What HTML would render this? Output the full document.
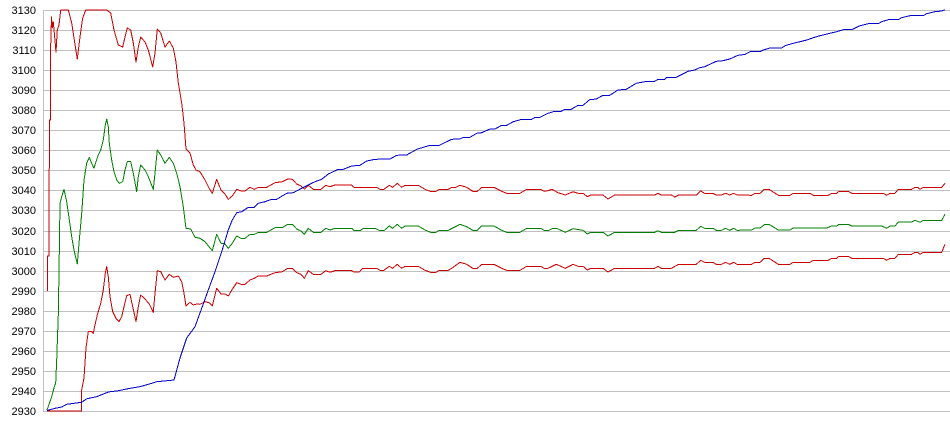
<!DOCTYPE html>
<html>
<head>
<meta charset="utf-8">
<style>
html,body{margin:0;padding:0;background:#fff;}
svg{display:block;}
text{font-family:"Liberation Sans",Arial,sans-serif;font-size:11px;fill:#000;}
</style>
</head>
<body>
<svg width="950" height="435" viewBox="0 0 950 435" xmlns="http://www.w3.org/2000/svg">
<rect x="0" y="0" width="950" height="435" fill="#fff"/>
<g stroke="#c0c0c0" stroke-width="1" shape-rendering="crispEdges">
<line x1="43" y1="10.5" x2="950" y2="10.5"/>
<line x1="43" y1="30.5" x2="950" y2="30.5"/>
<line x1="43" y1="50.5" x2="950" y2="50.5"/>
<line x1="43" y1="70.5" x2="950" y2="70.5"/>
<line x1="43" y1="90.5" x2="950" y2="90.5"/>
<line x1="43" y1="110.5" x2="950" y2="110.5"/>
<line x1="43" y1="130.5" x2="950" y2="130.5"/>
<line x1="43" y1="150.5" x2="950" y2="150.5"/>
<line x1="43" y1="170.5" x2="950" y2="170.5"/>
<line x1="43" y1="190.5" x2="950" y2="190.5"/>
<line x1="43" y1="210.5" x2="950" y2="210.5"/>
<line x1="43" y1="231.5" x2="950" y2="231.5"/>
<line x1="43" y1="251.5" x2="950" y2="251.5"/>
<line x1="43" y1="271.5" x2="950" y2="271.5"/>
<line x1="43" y1="291.5" x2="950" y2="291.5"/>
<line x1="43" y1="311.5" x2="950" y2="311.5"/>
<line x1="43" y1="331.5" x2="950" y2="331.5"/>
<line x1="43" y1="351.5" x2="950" y2="351.5"/>
<line x1="43" y1="371.5" x2="950" y2="371.5"/>
<line x1="43" y1="391.5" x2="950" y2="391.5"/>
<line x1="43" y1="411.5" x2="950" y2="411.5"/>
<line x1="43.5" y1="10" x2="43.5" y2="412"/>
</g>
<g text-anchor="end">
<text x="36" y="14">3130</text>
<text x="36" y="34">3120</text>
<text x="36" y="54">3110</text>
<text x="36" y="74">3100</text>
<text x="36" y="94">3090</text>
<text x="36" y="114">3080</text>
<text x="36" y="134">3070</text>
<text x="36" y="154">3060</text>
<text x="36" y="174">3050</text>
<text x="36" y="194">3040</text>
<text x="36" y="214">3030</text>
<text x="36" y="235">3020</text>
<text x="36" y="255">3010</text>
<text x="36" y="275">3000</text>
<text x="36" y="295">2990</text>
<text x="36" y="315">2980</text>
<text x="36" y="335">2970</text>
<text x="36" y="355">2960</text>
<text x="36" y="375">2950</text>
<text x="36" y="395">2940</text>
<text x="36" y="415">2930</text>
</g>
<g fill="none" stroke-width="1" stroke-linejoin="round" shape-rendering="crispEdges">
<!-- upper red -->
<polyline stroke="#cc0000" points="47.5,291 47.5,256 49,256 49,188 49.5,150 49.5,120 50.5,120 50.5,52 51.5,17 52.3,28 53.3,22 54.3,33 56,52 57.3,30 59,25 60.7,10 68.3,10 71.7,23 74.3,40 77.3,59 80,37 82.7,18 85.7,10 106.7,10 110.7,13 114,30 118.3,45 122.7,47 125,37 127.3,28 130.7,30 133.3,43 136,62 138.3,47 140.7,37 145,42 148.3,50 152.7,67 155,53 157.3,29 160.7,33 165,47 169.3,41 173.3,48 176,62 178.3,83 181.7,103 184,123 186,149 190,153 193.3,165 196,170 200,171.7 205,180 209,188 212.3,193.3 216.7,179.3 221,190 225,194 228.3,199.3 232.3,196 236.7,189.3 241,191 245,191 250,187.3 254.3,189.3 258.3,187.3 266.7,187.3 275,182.7 282.3,181.7 287.7,179 292.3,179.3 296.7,184 301,186 304.3,189 308.3,185.3 313.3,189.3 321,189.3 325.7,185.3 330,186.7 335,185 351.7,185 354,187.3 376.7,187.3 380,189.3 384,189.3 389.3,185.3 392.7,187.3 397.3,183.3 401.7,187.3 405,185.3 418.3,185.3 425,189.3 430,191.3 436,191.3 439.3,189.3 448.3,189.3 451.7,187.3 456,187.3 460,185.3 466.7,187.3 472.7,191.3 477.3,191.3 481.7,187.3 494,187.3 501.7,191.3 506.7,193.3 520,193.3 526.7,189.3 540.7,189.3 544,191.3 548,190.7 552,189.3 558,192.7 565.3,195 573,191.7 578,193.3 583,193.3 587.3,196.7 590.7,195 603,195 608,199 614.7,195 654.7,195 658,193.3 661.3,195 671.3,195 674.7,197 678.7,195 696.3,195 700.7,191 704.7,193.3 713,193.3 716.3,195 721.3,195 725.7,193.3 729.7,195 733.7,193.3 737,195 751.7,195.3 755,193.3 760,193.3 764.3,189.3 769,189.3 778.3,195.3 790,195.3 793.3,193.3 810,193.3 813.3,195.3 828.3,195.3 831.7,193.3 836.7,193.3 839,191.3 848.3,191.3 851.7,193.3 883.3,193.3 886.7,195.3 890,193.3 895,193.3 898.3,189.3 911.7,189.3 915,187.3 917.7,187.3 920,189.3 923.3,187.3 941.7,187.3 945,183.3"/>
<!-- lower red -->
<polyline stroke="#cc0000" points="47,411 81.5,411 81.7,390 84,378 86,348 88.3,331.7 91.7,331.7 93.3,333.3 95,325 97.3,315 100.7,303.3 103.3,290 105.3,273.3 106.7,266.7 108.3,276.7 110,296.7 112.7,311.7 116,318.3 119,321.7 121.7,316.7 124,306.7 126.7,295.7 130,294.3 132.7,306.7 136,321.7 138.3,306.7 140.7,295 145,299 149.3,304 153.3,312.3 155,293.3 157.3,270.7 160.7,271.7 165,280 169.3,274.3 173.3,277.3 178.3,276 181.7,281.7 184,293.3 186,306 190,302.3 193.3,305 196.7,304 200,304.3 205,301.7 209,302.7 212.3,306 216.7,288.3 221,294 225,294 228.3,296 232.3,289.3 236.7,282.7 241,284.3 245,284.3 250,280 254.3,278.3 258.3,276 266.7,276 275,272.7 282.3,271.7 287.7,268.3 292.3,268.3 296.7,272.7 301,274.3 304.3,278.3 308.3,270.7 313.3,274.3 321,274.3 325.7,270.7 330,272.3 335,270.7 351.7,270.7 354,272 359.3,272 362.7,268.3 376.7,268.3 380,270.3 384,270.3 389.3,266.3 392.7,268.3 397.3,264.3 401.7,268.3 405,266.3 418.3,266.3 425,270.3 430.7,272.3 436,272.3 439.3,270.3 448.3,270.3 451.7,268.3 460,262.3 466.7,264.3 472.7,268.3 477.3,268.3 481.7,264.3 494,264.3 501.7,268.3 506.7,270.3 520,270.3 526.7,266.3 540.7,266.3 544,268.3 548,268.3 556.3,264.3 565.3,268.3 573,264.3 578,266.3 583,266.3 587.3,270 590.7,268.3 603,268.3 608,272 614.7,268.3 654.7,268.3 658,266.3 661.3,268.3 671.3,268.3 678.7,264.3 696.3,264.3 700.7,260.3 704.7,262.3 713,262.3 716.3,264.3 721.3,264.3 725.7,262.3 729.7,264.3 733.7,262.3 737,264.3 751.7,264.3 755,262.3 760,262.3 764.3,258.3 769,258.3 778.3,264.3 790,264.3 793.3,262.3 810,262.3 813.3,260.3 828.3,260.3 831.7,258.3 836.7,258.3 839,256.3 848.3,256.3 851.7,258.3 883.3,258.3 886.7,260.3 890,258.3 895,258.3 898.3,254.3 911.7,254.3 915,252.3 917.7,252.3 920,254.3 923.3,252.3 941.7,252.3 945,244.3"/>
<!-- green -->
<polyline stroke="#008000" points="47,410 51.7,396.7 54.3,386.7 55.7,383 56.7,360 58.3,315 59,271.7 60,203.3 61.7,196.7 64,189.3 66.7,201.7 69.3,220 71.7,236.7 74,250 77.3,264 79.3,240 81.7,213.3 84,180 86.7,163.3 89.3,157.3 91.7,163.3 94,168.3 96,161.7 98.3,155 100.7,150 103.3,140 105.3,125 106.7,119 108.3,126.7 109.3,143.3 111.7,160 114,171.7 116.7,180 119.3,183.3 122.7,181.7 125,170 127.3,161.7 130.7,161.7 133.3,173.3 136.7,191.7 138.3,176.7 140.7,165 145,170 148.3,176.7 153.3,189.3 155,173.3 157.3,150 160.7,155 165,163.3 169.3,157.3 173.3,163.3 176.7,173.3 180,186.7 183.3,206.7 186,228.3 190.7,229 195,237.3 200,238.3 205,241.7 209,246.7 212.3,250.7 216.7,234.3 221,243.3 225,244 228.3,248.3 232.3,243.3 236.7,236 241,238.3 245,238.3 250,234.3 254.3,234.3 258.3,232.3 266.7,232.3 275,227.7 282.3,227.7 287.7,224.3 292.3,224.3 296.7,229 301,231 304.3,234.3 308.3,228.3 313.3,232.3 321,232.3 325.7,228.3 330,230 335,228.3 351.7,228.3 354,230.7 360,230.7 362.7,228.7 376,228.7 380,230.7 384,230.7 389.3,226 392.7,228.3 397.3,224.3 401.7,228.3 405,226 418.3,226 425,230 430.7,232.3 436,232.3 439.3,230.3 448.3,230.3 460,224.3 466.7,226.7 472.7,230.3 477.3,230.3 481.7,226 494,226 501.7,230.3 506.7,232.3 520,232.3 526.7,228.3 540.7,228.3 544,230.3 548,230.7 553,228.3 557.3,228.7 565.3,232.3 573,228.7 583,230.3 587.3,234 590.7,232.3 603,232.3 608,236 614.7,232.3 654.7,232.3 658,230.7 661.3,232.3 674.7,232.3 678.7,230.3 696.3,230.3 700.7,226.3 704.7,228.3 713,228.3 716.3,230.3 721.3,230.3 725.7,228.3 729.7,230.3 733.7,228.3 737,230.3 751.7,230 755,228 760,228 765,224.3 769,224.3 778.3,230 790,230 793.3,228 826.7,228 831.7,226 836.7,226 839,224.3 848.3,224.3 851.7,226 881.7,226 886.7,228.3 890,226 895,226 898.3,222 911.7,222 915,220.3 920,222.3 923.3,220.3 941.7,220.3 945,214.3"/>
<!-- blue -->
<polyline stroke="#0000cc" points="47,410.5 55,408.3 61.7,407 66.7,404.3 81.7,402.3 86.7,398.8 96.7,396.7 108.3,392 118.3,390.7 130,388.3 140,386.7 151.7,383.3 156.7,381.7 174,380 180,358 186.7,338 195,326.7 201.7,308.3 208.3,290 215,271.7 221.7,251.7 228.3,230 232.3,220 236.7,212.7 241.7,211.7 248.3,207.3 254.3,207.3 258.3,203.3 265,201.7 271.7,199.3 276.7,199.3 286.7,193.3 293.3,192.7 301.7,188.3 308.3,185 315,181.7 321.7,179.3 328.3,174 338.3,169.3 343.3,169.3 351.7,166 360,165.3 366.7,161 375,159.3 390,159 396.7,155.3 406.7,155 416.7,149.3 430,145.3 439.3,145.3 451.7,139.3 460,139 463.3,137.3 470,137.3 476.7,133.3 481.7,132.7 490,129 495,129 501.7,125.3 506.7,125.3 513.3,121.7 521.7,119.3 531.7,119.3 535,117.3 540,117.3 548,113.3 554.7,111.3 561.3,111.3 564.7,109.3 571.3,109.3 578,105.3 583,105.3 589.7,99.7 596.3,99 603,95.3 609.7,95.3 618,90 626.3,89.3 636.3,83.3 644.7,81.7 654.7,81.3 658,79.3 664.7,79.3 666.3,77.7 676.3,77.3 688,71.3 694.7,70 699.7,67.7 704.7,66.7 716.3,61.3 723,60.7 729.7,59 738,55.3 744.7,54.5 750,51.7 760,51.7 763.3,50 770,48 781.7,48 785,45.7 791.7,43.7 800,41.7 806.7,40 813.3,37.7 820,35.7 830,33.3 836.7,31.7 843.3,29.7 851.7,29.7 860,25.7 868.3,23.7 878.3,23.7 881.7,21.7 888.3,19.7 898.3,19.7 901.7,17.7 910,15.7 923.3,15.7 926.7,13.7 935,11.7 941.7,11 945,9.7"/>
</g>
</svg>
</body>
</html>
